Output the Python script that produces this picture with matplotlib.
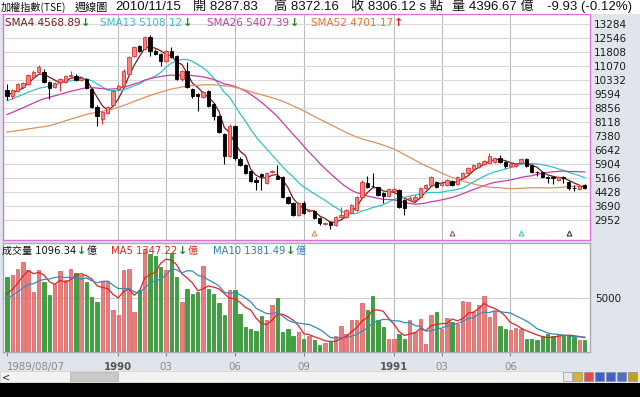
import numpy as np
import pandas as pd
import matplotlib
matplotlib.use('Agg')
import matplotlib.pyplot as plt
from matplotlib.patches import Rectangle
import matplotlib.transforms as mtransforms

# weekly TAIEX candles, 1989/08/07 onwards
open_ = [9810, 9490, 9750, 9970, 10120, 10490, 10750, 10760, 10230, 9970,
         10230, 10230, 10540, 10540, 10330, 10390, 9860, 8910, 8280, 8600,
         9010, 9860, 10020, 10650, 11600, 12120, 11960, 12600, 11860, 11700,
         11330, 11860, 11600, 10390, 10810, 9860, 9600, 9440, 9750, 9070,
         8440, 7490, 6330, 7910, 6170, 5850, 5540, 5060, 5400, 4900,
         5480, 5270, 5220, 4170, 3850, 3220, 3850, 3430, 3430, 3060,
         2750, 2850, 2690, 3110, 3110, 3320, 3480, 4150, 4900, 4760,
         4690, 4380, 4220, 4480, 4540, 4010, 4010, 4010, 4170, 4640,
         4800, 4960, 4800, 4800, 5010, 4850, 5160, 5430, 5640, 5750,
         5900, 5980, 6010, 6200, 6010, 5800, 5800, 5960, 6170, 5850,
         5500, 5480, 5200, 5230, 5060, 5220, 4960, 4660, 4590, 4800]
high = [10100, 9850, 10200, 10250, 10650, 10850, 11100, 10900, 10280, 10230,
        10420, 10600, 10800, 10650, 10500, 10450, 9900, 9000, 8700, 8950,
        9800, 10100, 10900, 11600, 12150, 12200, 12650, 12680, 11950, 11750,
        11900, 12050, 11650, 10850, 11300, 9900, 9650, 9750, 9800, 9100,
        8500, 7550, 8000, 7950, 6250, 5900, 5600, 5220, 5450, 5480,
        5600, 5850, 5250, 4200, 3900, 3900, 3950, 3550, 3480, 3100,
        2850, 2900, 3150, 3640, 3520, 3800, 4200, 5050, 5270, 5430,
        4720, 4420, 4620, 4650, 4600, 4050, 4200, 4250, 4680, 4850,
        5270, 5000, 4950, 5100, 5060, 5270, 5480, 5740, 5900, 6000,
        6100, 6480, 6280, 6400, 6050, 5950, 5950, 6200, 6200, 5900,
        5550, 5500, 5250, 5300, 5260, 5280, 5000, 4800, 4800, 4850]
low = [9300, 9350, 9700, 9900, 10050, 10450, 10700, 10180, 9330, 9900,
       9750, 10180, 10500, 10280, 10280, 9850, 8850, 7900, 8000, 8550,
       8950, 9800, 9950, 10600, 11550, 11800, 11900, 11600, 11650, 11070,
       11280, 11500, 10350, 10300, 9900, 9400, 8700, 9380, 8900, 8220,
       7550, 5900, 6250, 6100, 5800, 5380, 4950, 4540, 4550, 4850,
       5450, 5100, 4100, 3800, 3150, 3180, 3280, 3380, 3000, 2700,
       2700, 2485, 2650, 3080, 3080, 3300, 3450, 4100, 4650, 4700,
       4200, 3850, 4180, 4450, 3600, 3220, 3950, 3950, 4120, 4600,
       4750, 4640, 4750, 4750, 4750, 4800, 5100, 5380, 5600, 5700,
       5850, 5950, 5950, 5960, 5700, 5750, 5760, 5900, 5750, 5450,
       5300, 5150, 4900, 4850, 5000, 4900, 4540, 4500, 4550, 4600]
close = [9490, 9800, 10120, 10170, 10600, 10750, 11020, 10230, 9910, 10170,
         10390, 10540, 10600, 10330, 10440, 9910, 8910, 8440, 8650, 8910,
         9750, 10020, 10810, 11550, 12070, 11860, 12600, 11860, 11700, 11330,
         11860, 11550, 10390, 10810, 9960, 9490, 9490, 9700, 8960, 8440,
         7590, 6330, 7910, 6200, 5850, 5430, 5010, 4960, 5300, 5430,
         5560, 5120, 4170, 3850, 3220, 3850, 3320, 3480, 3060, 2800,
         2800, 2690, 3110, 3220, 3480, 3750, 4170, 4980, 4700, 4740,
         4270, 4220, 4590, 4590, 3640, 3590, 4110, 4170, 4640, 4800,
         5220, 4690, 4900, 5060, 4800, 5220, 5430, 5690, 5850, 5950,
         6060, 6330, 6200, 6010, 5800, 5900, 5900, 6170, 5800, 5480,
         5480, 5220, 5150, 5180, 5220, 5150, 4640, 4620, 4750, 4640]
# weekly volume (億)
volume = [6940, 7100, 7720, 8330, 7560, 5560, 7620, 6480, 5310, 6330,
          7470, 6630, 7720, 7340, 7100, 6480, 5090, 4630, 6570, 6570,
          3860, 3390, 7620, 7720, 3700, 5710, 9570, 9040, 8860, 7870,
          7620, 9170, 6940, 4630, 5860, 5340, 5560, 7930, 5860, 5340,
          4540, 3390, 5710, 5710, 3550, 2310, 2130, 1940, 3300, 2990,
          4320, 5000, 1850, 2100, 1450, 1820, 1230, 1450, 1080, 620,
          830, 930, 1450, 2380, 1640, 2930, 2930, 4540, 3860, 5150,
          2990, 2310, 1230, 1230, 1640, 1230, 2990, 1850, 3090, 710,
          3460, 3700, 2160, 3180, 2780, 2620, 4720, 4630, 3700, 4320,
          5150, 3240, 3760, 2380, 2160, 2070, 2220, 2160, 1230, 1230,
          1080, 1450, 1640, 1450, 1700, 1450, 1540, 1390, 1080, 1140]
# earlier weeks that feed the moving averages
prior_close = [7400, 7600, 7900, 8100, 8300, 8500, 8700, 8400, 7200, 6300,
               5900, 5700, 6100, 6000, 5800, 5600, 5800, 5900, 6100, 6000,
               5800, 5700, 5900, 6100, 6300, 6500, 6700, 7000, 6900, 7100,
               7300, 7500, 7700, 7600, 7900, 8200, 8400, 8500, 8500, 8700,
               8600, 8500, 8700, 9000, 9400, 9700, 9500, 9300, 9200, 9400,
               9600, 9700]
prior_volume = [4300, 4500, 4400, 4600, 4700, 5200, 4900, 5000, 4960]

price_levels = [13284, 12546, 11808, 11070, 10332, 9594, 8856, 8118, 7380,
                6642, 5904, 5166, 4428, 3690, 2952]
tick_idx = [0, 21, 30, 43, 56, 73, 82, 95]
tick_lab = ['1989/08/07', '1990', '03', '06', '09', '1991', '03', '06']
signal_idx = [58, 84, 97, 106]
signal_col = ['#e8884a', '#a0509a', '#40c8d0', '#503040']

sma_periods = [4, 13, 26, 52]
sma_cols = ['#7a1c1c', '#30c4c8', '#c83ca8', '#e0905c']

W, H = 640, 397
def fx(p): return p / W
def fy(p): return 1 - p / H

fig = plt.figure(figsize=(6.4, 3.97), dpi=100)
fig.patch.set_facecolor('#dfe5ea')
fig.patches.append(Rectangle((0, fy(14)), 1, 1 - fy(14), transform=fig.transFigure,
                             facecolor='white', edgecolor='none', zorder=0))

ax = fig.add_axes([fx(3), fy(240), fx(590) - fx(3), fy(14) - fy(240)])
axv = fig.add_axes([fx(3), fy(352), fx(590) - fx(3), fy(243) - fy(352)])

n = len(close)
x = np.arange(n)
o = np.array(open_); c = np.array(close); hi = np.array(high); lo = np.array(low)
up = c >= o

# moving averages
allc = pd.Series(prior_close + close)
for per, col in zip(sma_periods, sma_cols):
    m = allc.rolling(per).mean().to_numpy()[len(prior_close):]
    ax.plot(x, m, color=col, lw=0.9, zorder=3)

# candles
body_bot = np.minimum(o, c)
body_h = np.maximum(np.abs(c - o), 30)
ax.vlines(x[up], lo[up], hi[up], color='#e03434', lw=0.8, zorder=4)
ax.vlines(x[~up], lo[~up], hi[~up], color='black', lw=0.8, zorder=4)
ax.bar(x[up], body_h[up], bottom=body_bot[up], width=0.64, color='#f48484',
       edgecolor='#e03434', linewidth=0.6, zorder=5)
ax.bar(x[~up], body_h[~up], bottom=body_bot[~up], width=0.64, color='black',
       edgecolor='black', linewidth=0.6, zorder=5)

trans = mtransforms.blended_transform_factory(ax.transData, ax.transAxes)
for si, sc in zip(signal_idx, signal_col):
    ax.plot(si, 0.03, marker='^', ms=3.5, mfc='none', mec=sc, mew=0.8,
            transform=trans, zorder=6)

ax.set_xlim(-0.75, 110.0)
ax.set_ylim(1901, 13811)
ax.set_yticks(price_levels)
ax.yaxis.tick_right()
ax.tick_params(axis='y', length=0, pad=3, labelsize=7.5, labelcolor='#1c1c1c')
ax.set_xticks(tick_idx[1:])
ax.tick_params(axis='x', length=0, labelbottom=False)
ax.grid(axis='y', color='#d9d9d9', lw=0.8)
ax.grid(axis='x', color='#bcbcbc', lw=0.8)
ax.set_axisbelow(True)
for s in ax.spines.values():
    s.set_color('#e070d8')
    s.set_linewidth(1.0)

# volume
vol = np.array(volume)
allv = pd.Series(prior_volume + volume)
axv.bar(x[up], vol[up], width=0.64, color='#ea7c7c', edgecolor='#d45a5a',
        linewidth=0.5, zorder=3)
axv.bar(x[~up], vol[~up], width=0.64, color='#3da23d', edgecolor='#2c862c',
        linewidth=0.5, zorder=3)
axv.plot(x, allv.rolling(5).mean().to_numpy()[len(prior_volume):],
         color='#e02424', lw=0.9, zorder=4)
axv.plot(x, allv.rolling(10).mean().to_numpy()[len(prior_volume):],
         color='#3a88bc', lw=0.9, zorder=4)
axv.set_xlim(-0.75, 110.0)
axv.set_ylim(0, 10090)
axv.set_yticks([5000])
axv.yaxis.tick_right()
axv.tick_params(axis='y', length=0, pad=4, labelsize=7.5, labelcolor='#1c1c1c')
axv.grid(axis='y', color='#cfcfcf', lw=0.8)
axv.set_xticks(tick_idx)
axv.set_xticklabels(tick_lab)
axv.tick_params(axis='x', length=3, color='#888888', pad=4, labelsize=7.3,
                labelcolor='#8a8a8a')
for i, (lab, t) in enumerate(zip(axv.get_xticklabels(), tick_lab)):
    if len(t) == 4:
        lab.set_fontweight('bold')
        lab.set_color('#555555')
    if i == 0:
        lab.set_horizontalalignment('left')
        lab.set_x(-0.6)
axv.set_axisbelow(True)
axv.xaxis.grid(True, color='#bcbcbc', lw=0.8)
for i, g in enumerate(axv.xaxis.get_gridlines()):
    if i == 0:
        g.set_visible(False)
for s in axv.spines.values():
    s.set_color('#a4adb6')
    s.set_linewidth(1.0)

cjk = ['DejaVu Sans', 'Noto Sans CJK TC']

def chain(prev, txt, col, size, bold=False):
    # put a text right after the previous one
    return plt.annotate(txt, xy=(1, 0.5), xycoords=prev, va='center', ha='left',
                        family=cjk, size=size, color=col,
                        fontweight='bold' if bold else 'normal',
                        xytext=(0.5, 0), textcoords='offset points',
                        annotation_clip=False)

# header line
hy = fy(7)
fig.text(fx(1), hy, '加權指數(TSE)', family=['Noto Sans CJK TC'], size=7.3,
         va='center', color='#111111')
fig.text(fx(75), hy, '週線圖', family=['Noto Sans CJK TC'], size=8,
         va='center', color='#111111')
head = [(115, '2010/11/15'), (193, '開 8287.83'), (274, '高 8372.16'),
        (351, '收 8306.12 s 點'), (452, '量 4396.67 億'), (547, '-9.93 (-0.12%)')]
for px, t in head:
    fig.text(fx(px), hy, t, family=['Liberation Sans', 'Noto Sans CJK TC'],
             size=9.5, va='center', color='#111111')

# price legend
ly = fy(23)
leg = [(5, 'SMA4 4568.89', '#7a1c1c', '↓', '#1e8a1e'),
       (100, 'SMA13 5108.12', '#30c4c8', '↓', '#1e8a1e'),
       (207, 'SMA26 5407.39', '#c83ca8', '↓', '#1e8a1e'),
       (311, 'SMA52 4701.17', '#ee7030', '↑', '#e02020')]
for px, t, col, arr, acol in leg:
    tt = fig.text(fx(px), ly, t, family=cjk, size=7.5, va='center', color=col)
    chain(tt, arr, acol, 8, bold=True)

# volume legend
vy = fy(251)
vleg = [(2, '成交量 1096.34', '#111111'),
        (111, 'MA5 1347.22', '#e02424'),
        (213, 'MA10 1381.49', '#2f7fb4')]
for px, t, col in vleg:
    tt = fig.text(fx(px), vy, t, family=cjk, size=7.2, va='center', color=col)
    a = chain(tt, '↓', '#1e8a1e', 8, bold=True)
    chain(a, '億', col, 7.2)

# scrollbar and bottom chrome
fig.patches.append(Rectangle((0, fy(382)), fx(563), fy(371) - fy(382),
                             transform=fig.transFigure, facecolor='#f2f2f2',
                             edgecolor='#d0d0d0', lw=0.5))
fig.patches.append(Rectangle((fx(70), fy(381)), fx(118) - fx(70), fy(372) - fy(381),
                             transform=fig.transFigure, facecolor='#c9c9c9',
                             edgecolor='#b0b0b0', lw=0.5))
fig.text(fx(2), fy(377), '<', size=7, va='center', color='#333333')
fig.patches.append(Rectangle((0, 0), 1, fy(383), transform=fig.transFigure,
                             facecolor='black', edgecolor='none'))
icon_x = [563, 573, 584, 595, 606, 617, 628]
icon_c = ['#e8e8e8', '#d8b040', '#e05050', '#4060d0', '#4060d0', '#5070c0', '#c0a020']
for ix, ic in zip(icon_x, icon_c):
    fig.patches.append(Rectangle((fx(ix), fy(381)), fx(9), fy(372) - fy(381),
                                 transform=fig.transFigure, facecolor=ic,
                                 edgecolor='#888888', lw=0.4))

fig.savefig('out.png', dpi=100, facecolor=fig.get_facecolor())
